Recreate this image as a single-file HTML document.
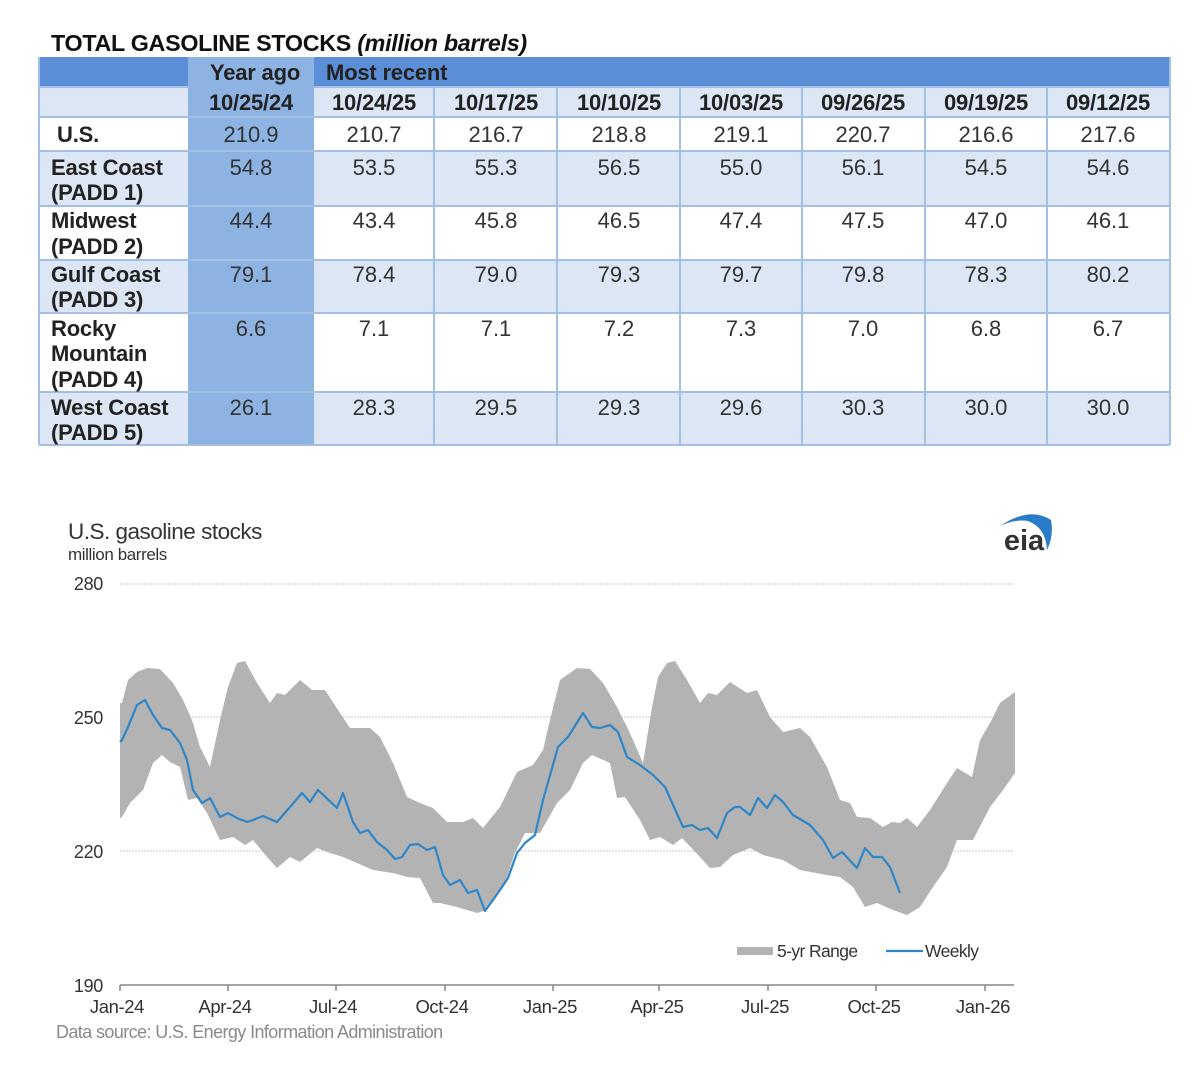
<!DOCTYPE html>
<html><head><meta charset="utf-8"><style>
html,body{margin:0;padding:0;background:#fff;}
svg{display:block;font-family:"Liberation Sans",Arial,sans-serif;}
</style></head><body>
<svg width="1200" height="1073" viewBox="0 0 1200 1073" xmlns="http://www.w3.org/2000/svg">
<text x="51" y="51" font-size="23.3" font-weight="bold" fill="#111" letter-spacing="-0.3">TOTAL GASOLINE STOCKS <tspan font-style="italic">(million barrels)</tspan></text>
<rect x="39" y="57" width="1131" height="30" fill="#5b8ed6"/>
<rect x="39" y="87" width="1131" height="30" fill="#dce6f4"/>
<rect x="39" y="117" width="1131" height="34" fill="#fff"/>
<rect x="39" y="151" width="1131" height="55" fill="#dce6f4"/>
<rect x="39" y="206" width="1131" height="54" fill="#fff"/>
<rect x="39" y="260" width="1131" height="53" fill="#dce6f4"/>
<rect x="39" y="313" width="1131" height="79" fill="#fff"/>
<rect x="39" y="392" width="1131" height="53" fill="#dce6f4"/>
<rect x="188" y="57" width="126" height="388" fill="#8db3e2"/>
<g stroke="#a3bfe3" stroke-width="2" fill="none">
<line x1="39" y1="87" x2="188" y2="87"/><line x1="314" y1="87" x2="1170" y2="87"/>
<line x1="39" y1="117" x2="1170" y2="117"/><line x1="39" y1="151" x2="1170" y2="151"/>
<line x1="39" y1="206" x2="1170" y2="206"/><line x1="39" y1="260" x2="1170" y2="260"/>
<line x1="39" y1="313" x2="1170" y2="313"/><line x1="39" y1="392" x2="1170" y2="392"/>
<line x1="39" y1="445" x2="1170" y2="445"/>
<line x1="39" y1="57" x2="39" y2="445"/><line x1="1170" y1="57" x2="1170" y2="445"/>
<line x1="434" y1="87" x2="434" y2="445"/><line x1="557" y1="87" x2="557" y2="445"/>
<line x1="680" y1="87" x2="680" y2="445"/><line x1="802" y1="87" x2="802" y2="445"/>
<line x1="925" y1="87" x2="925" y2="445"/><line x1="1047" y1="87" x2="1047" y2="445"/>
</g>
<g font-size="22" font-weight="bold" fill="#222" letter-spacing="-0.2">
<text x="255" y="80" text-anchor="middle">Year ago</text>
<text x="326" y="80">Most recent</text>
<g text-anchor="middle">
<text x="251" y="110">10/25/24</text><text x="374" y="110">10/24/25</text><text x="496" y="110">10/17/25</text>
<text x="619" y="110">10/10/25</text><text x="741" y="110">10/03/25</text><text x="863" y="110">09/26/25</text>
<text x="986" y="110">09/19/25</text><text x="1108" y="110">09/12/25</text>
</g>
<text x="57" y="142">U.S.</text>
<text x="51" y="175">East Coast</text><text x="51" y="200">(PADD 1)</text>
<text x="51" y="228">Midwest</text><text x="51" y="254">(PADD 2)</text>
<text x="51" y="282">Gulf Coast</text><text x="51" y="307">(PADD 3)</text>
<text x="51" y="336">Rocky</text><text x="51" y="361">Mountain</text><text x="51" y="387">(PADD 4)</text>
<text x="51" y="415">West Coast</text><text x="51" y="440">(PADD 5)</text>
</g>
<g font-size="22" fill="#333" text-anchor="middle">
<text x="251" y="142">210.9</text><text x="374" y="142">210.7</text><text x="496" y="142">216.7</text><text x="619" y="142">218.8</text><text x="741" y="142">219.1</text><text x="863" y="142">220.7</text><text x="986" y="142">216.6</text><text x="1108" y="142">217.6</text>
<text x="251" y="175">54.8</text><text x="374" y="175">53.5</text><text x="496" y="175">55.3</text><text x="619" y="175">56.5</text><text x="741" y="175">55.0</text><text x="863" y="175">56.1</text><text x="986" y="175">54.5</text><text x="1108" y="175">54.6</text>
<text x="251" y="228">44.4</text><text x="374" y="228">43.4</text><text x="496" y="228">45.8</text><text x="619" y="228">46.5</text><text x="741" y="228">47.4</text><text x="863" y="228">47.5</text><text x="986" y="228">47.0</text><text x="1108" y="228">46.1</text>
<text x="251" y="282">79.1</text><text x="374" y="282">78.4</text><text x="496" y="282">79.0</text><text x="619" y="282">79.3</text><text x="741" y="282">79.7</text><text x="863" y="282">79.8</text><text x="986" y="282">78.3</text><text x="1108" y="282">80.2</text>
<text x="251" y="336">6.6</text><text x="374" y="336">7.1</text><text x="496" y="336">7.1</text><text x="619" y="336">7.2</text><text x="741" y="336">7.3</text><text x="863" y="336">7.0</text><text x="986" y="336">6.8</text><text x="1108" y="336">6.7</text>
<text x="251" y="415">26.1</text><text x="374" y="415">28.3</text><text x="496" y="415">29.5</text><text x="619" y="415">29.3</text><text x="741" y="415">29.6</text><text x="863" y="415">30.3</text><text x="986" y="415">30.0</text><text x="1108" y="415">30.0</text>
</g>

<text x="68" y="539" font-size="22.5" fill="#333" letter-spacing="-0.5">U.S. gasoline stocks</text>
<text x="68" y="560" font-size="17" fill="#333" letter-spacing="-0.4">million barrels</text>
<text x="1024" y="550" font-size="29" font-weight="bold" fill="#333" text-anchor="middle">eia</text>
<path d="M1000 526 Q1030 506 1051 520 Q1054 536 1047 550 Q1046 528 1028 521 Q1014 519 1000 526Z" fill="#2a7bc8"/>
<g font-size="18" fill="#333" text-anchor="end" letter-spacing="-0.3">
<text x="103" y="590">280</text><text x="103" y="724">250</text><text x="103" y="858">220</text><text x="103" y="992">190</text>
</g>
<g stroke="#c8c8c8" stroke-width="1" stroke-dasharray="2,1">
<line x1="120" y1="584" x2="1014" y2="584"/><line x1="120" y1="717" x2="1014" y2="717"/><line x1="120" y1="851" x2="1014" y2="851"/>
</g>
<path fill="#b3b3b3" d="M120 703 L122 703 L128 680 L137 672 L147 668 L160 669 L173 683 L183 700 L192 720 L200 747 L210 767 L220 720 L228 687 L237 663 L245 661 L257 683 L270 703 L277 693 L285 695 L300 680 L312 690 L325 690 L340 713 L350 728 L370 728 L380 737 L393 763 L407 797 L420 803 L433 808 L447 822 L463 822 L473 818 L483 828 L500 807 L517 772 L533 765 L543 750 L550 720 L560 680 L577 668 L590 669 L603 683 L617 707 L627 727 L633 740 L643 763 L652 707 L658 677 L667 663 L675 661 L687 680 L700 703 L708 693 L717 695 L730 682 L747 693 L757 690 L770 717 L783 732 L800 728 L810 737 L827 767 L840 800 L850 803 L857 817 L870 818 L883 827 L892 822 L900 823 L907 818 L917 827 L930 810 L947 783 L957 768 L972 777 L980 740 L990 723 L1000 703 L1015 692
L1015 773 L1003 790 L990 807 L973 840 L957 840 L947 867 L933 887 L920 907 L907 915 L893 910 L877 903 L865 907 L853 887 L840 877 L827 875 L800 870 L783 860 L763 855 L750 848 L733 855 L720 867 L710 868 L700 857 L682 838 L673 845 L660 837 L650 840 L640 820 L625 797 L617 798 L610 763 L592 755 L583 763 L570 790 L557 803 L540 833 L525 833 L515 853 L507 877 L500 890 L487 910 L477 913 L457 907 L440 903 L433 903 L420 878 L407 877 L393 873 L373 870 L357 863 L343 857 L330 853 L317 848 L300 862 L290 857 L277 868 L267 857 L253 840 L245 845 L233 837 L220 840 L207 813 L197 798 L188 800 L180 767 L170 762 L162 755 L153 763 L143 790 L130 803 L122 817 L120 818Z"/>
<polyline fill="none" stroke="#2e86c8" stroke-width="2.2" stroke-linejoin="round" points="120,742 122,740 128,727 137,705 145,700 153,715 162,728 170,730 180,743 187,760 193,790 202,803 210,798 220,817 228,813 237,818 247,822 253,820 263,816 277,822 290,807 302,793 310,802 318,790 337,808 343,793 353,822 360,833 368,830 377,842 387,850 395,859 402,857 410,845 418,844 427,850 435,847 443,875 450,885 460,880 468,893 477,890 485,911 493,900 500,890 508,878 517,853 525,843 535,835 543,800 558,747 568,737 583,713 592,727 600,728 610,725 618,732 627,757 640,765 653,775 665,787 683,827 692,825 700,830 708,828 717,838 727,813 735,807 740,807 750,815 758,798 767,808 775,795 783,802 793,815 810,825 823,840 833,858 842,852 857,868 865,848 873,857 882,857 890,867 900,893"/>
<line x1="120" y1="985" x2="1014" y2="985" stroke="#888" stroke-width="1.5"/>
<g stroke="#888" stroke-width="1.5">
<line x1="120" y1="985" x2="120" y2="991"/><line x1="228" y1="985" x2="228" y2="991"/><line x1="336" y1="985" x2="336" y2="991"/><line x1="445" y1="985" x2="445" y2="991"/><line x1="553" y1="985" x2="553" y2="991"/><line x1="659" y1="985" x2="659" y2="991"/><line x1="768" y1="985" x2="768" y2="991"/><line x1="876" y1="985" x2="876" y2="991"/><line x1="985" y1="985" x2="985" y2="991"/>
</g>
<g font-size="18.5" fill="#333" text-anchor="middle" letter-spacing="-0.4">
<text x="117" y="1013">Jan-24</text><text x="225" y="1013">Apr-24</text><text x="333" y="1013">Jul-24</text><text x="442" y="1013">Oct-24</text><text x="550" y="1013">Jan-25</text><text x="657" y="1013">Apr-25</text><text x="765" y="1013">Jul-25</text><text x="874" y="1013">Oct-25</text><text x="983" y="1013">Jan-26</text>
</g>
<text x="56" y="1038" font-size="18" fill="#8a8a8a" letter-spacing="-0.6">Data source: U.S. Energy Information Administration</text>
<rect x="737" y="947" width="36" height="8" fill="#b3b3b3"/>
<text x="777" y="957" font-size="17.5" fill="#333" letter-spacing="-0.6">5-yr Range</text>
<line x1="886" y1="951" x2="923" y2="951" stroke="#2e86c8" stroke-width="2.2"/>
<text x="925" y="957" font-size="17.5" fill="#333" letter-spacing="-0.6">Weekly</text>
</svg>
</body></html>
